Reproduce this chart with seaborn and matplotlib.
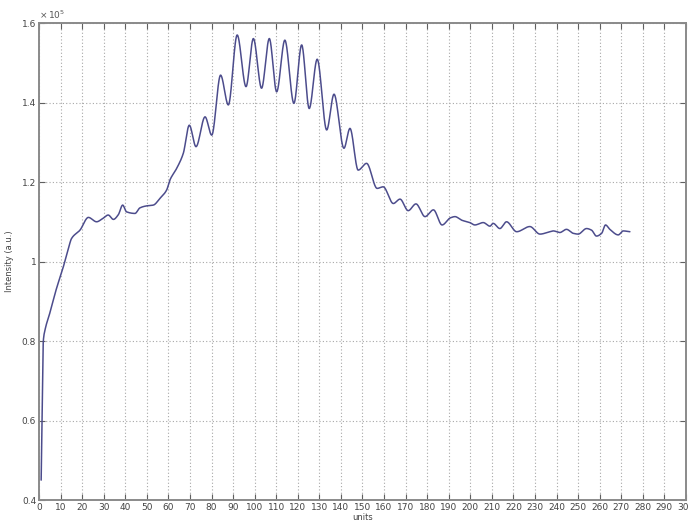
import numpy as np
import pandas as pd
import matplotlib
matplotlib.use("Agg")
import matplotlib.pyplot as plt
import seaborn as sns

# Measured intensity profile (x in units, intensity in 1e5 a.u.)
units = [1.0, 1.5, 2.0, 2.8, 5.0, 8.0, 11.3, 13.5, 15.1, 19.0, 22.9, 26.7, 29.5, 32.1,
         34.5, 36.8, 38.8, 40.6, 44.5, 46.8, 49.9, 53.0, 56.1, 59.2, 60.7, 63.8, 66.9,
         69.7, 72.8, 77.0, 80.1, 84.2, 87.8, 91.9, 96.0, 99.4, 103.2, 106.8, 110.2,
         114.0, 118.2, 121.8, 125.3, 129.0, 133.4, 136.8, 141.4, 144.2, 148.0, 151.9,
         156.8, 159.6, 164.3, 167.4, 171.2, 174.8, 179.0, 182.9, 186.9, 190.8, 192.9,
         196.0, 199.8, 202.1, 206.0, 209.1, 210.6, 213.7, 216.8, 221.5, 227.6, 232.3,
         236.9, 238.5, 241.5, 244.6, 247.7, 250.0, 253.9, 256.2, 258.5, 260.9, 262.7,
         264.7, 268.6, 270.9, 274.0]
intensity = [0.45, 0.62, 0.80, 0.828, 0.87, 0.93, 0.987, 1.03, 1.058, 1.079, 1.111,
             1.100, 1.108, 1.117, 1.106, 1.118, 1.142, 1.125, 1.121, 1.135, 1.140,
             1.142, 1.159, 1.180, 1.205, 1.234, 1.272, 1.343, 1.289, 1.364, 1.318,
             1.469, 1.394, 1.570, 1.440, 1.561, 1.436, 1.561, 1.427, 1.557, 1.398,
             1.545, 1.385, 1.509, 1.331, 1.421, 1.285, 1.335, 1.230, 1.247, 1.184,
             1.188, 1.146, 1.157, 1.128, 1.145, 1.113, 1.130, 1.092, 1.110, 1.113,
             1.104, 1.098, 1.092, 1.098, 1.089, 1.096, 1.083, 1.100, 1.075, 1.088,
             1.069, 1.075, 1.077, 1.073, 1.081, 1.071, 1.069, 1.083, 1.079, 1.064,
             1.071, 1.092, 1.081, 1.067, 1.077, 1.075]

x_ticks = list(range(0, 301, 10))
y_ticks = [0.4, 0.6, 0.8, 1.0, 1.2, 1.4, 1.6]
y_tick_labels = ["0.4", "0.6", "0.8", "1", "1.2", "1.4", "1.6"]

# Smooth the profile with a monotone cubic interpolant so the oscillations look continuous
def pchip(xk, yk, xn):
    xk = np.asarray(xk, float); yk = np.asarray(yk, float)
    h = np.diff(xk); d = np.diff(yk) / h
    m = np.zeros_like(yk)
    for i in range(1, len(xk) - 1):
        if d[i - 1] * d[i] > 0:
            w1 = 2 * h[i] + h[i - 1]; w2 = h[i] + 2 * h[i - 1]
            m[i] = (w1 + w2) / (w1 / d[i - 1] + w2 / d[i])
    m[0] = d[0]; m[-1] = d[-1]
    idx = np.clip(np.searchsorted(xk, xn) - 1, 0, len(xk) - 2)
    t = (xn - xk[idx]) / h[idx]
    h00 = 2 * t**3 - 3 * t**2 + 1; h10 = t**3 - 2 * t**2 + t
    h01 = -2 * t**3 + 3 * t**2; h11 = t**3 - t**2
    return (h00 * yk[idx] + h10 * h[idx] * m[idx] + h01 * yk[idx + 1]
            + h11 * h[idx] * m[idx + 1])

xs = np.linspace(units[0], units[-1], 2000)
df = pd.DataFrame({"units": xs, "intensity": pchip(units, intensity, xs)})

sns.set_style("ticks")
plt.rcParams["font.family"] = ["DejaVu Sans"]

fig = plt.figure(figsize=(6.89, 5.24), dpi=100)
ax = fig.add_axes([0.0566, 0.0458, 0.939, 0.9102])

sns.lineplot(data=df, x="units", y="intensity", ax=ax, color="#4c4c8c",
             linewidth=1.1, estimator=None)

ax.set_xlim(0, 300)
ax.set_ylim(0.4, 1.6)
ax.set_xticks(x_ticks)
ax.set_xticklabels([str(t) for t in x_ticks])
ax.set_yticks(y_ticks)
ax.set_yticklabels(y_tick_labels)

ax.grid(True, linestyle=(0, (1, 2)), color="#a8a8a8", linewidth=0.8)
ax.tick_params(direction="in", top=True, right=True, length=4, width=0.8,
               color="#606060", labelsize=6.5, labelcolor="#444444", pad=2)
for s in ax.spines.values():
    s.set_color("#8a8a8a")
    s.set_linewidth(1.4)

ax.set_xlabel("units", fontsize=6, color="#444444", labelpad=1)
ax.set_ylabel("Intensity (a.u.)", fontsize=6, color="#444444", labelpad=6)
ax.text(0.0, 1.004, r"$\times\,10^5$", transform=ax.transAxes, fontsize=6.5,
        color="#555555", ha="left", va="bottom")

fig.savefig("out.png", dpi=100, facecolor="white")
